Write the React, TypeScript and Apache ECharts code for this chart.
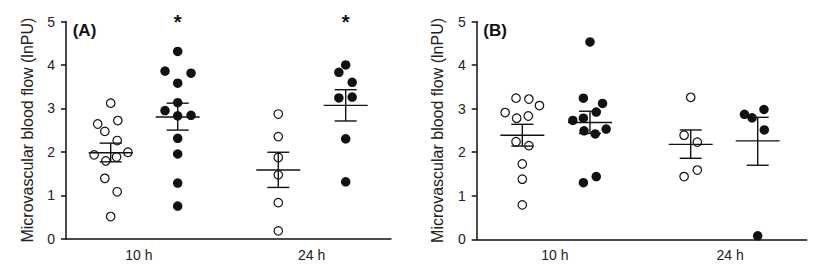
import React, { useEffect, useRef } from "react";
import * as echarts from "echarts";

// ---- data ----
const categories = ["10 h", "24 h"];
const panelTitles = ["(A)", "(B)"];
const yAxisName = "Microvascular blood flow (lnPU)";
// group centres on the 0..100 x scale: open 10 h, filled 10 h, open 24 h, filled 24 h
const groupCentersA = [13.75, 34.37, 65.32, 86.06];
const groupCentersB = [13.82, 34.33, 64.85, 85.15];
const labelPosA = [22.4, 75.6];
const labelPosB = [23.7, 76.8];

// panel A
const aOpen10 = [3.12, 2.64, 2.72, 2.47, 2.26, 1.93, 1.88, 1.99, 1.79, 1.39, 1.08, 0.51];
const aOpen10Jit = [0, -4, 2.2, -1.8, 2, -5.1, 1.8, 5.3, -1.5, -1.8, 2, 0];
const aFill10 = [4.31, 3.86, 3.81, 3.58, 3.13, 2.95, 2.83, 2.84, 2.31, 1.95, 1.28, 0.75];
const aFill10Jit = [0, -3.9, 4.1, 0, 0, -3.9, 0, 4.1, 0, 0, 0, 0];
const aOpen24 = [2.87, 2.35, 1.87, 1.47, 0.83, 0.18];
const aOpen24Jit = [0, 0, 0, 0, 0, 0];
const aFill24 = [4.0, 3.83, 3.6, 3.24, 3.26, 2.3, 1.31];
const aFill24Jit = [0, -2.1, 2, -2.1, 2, 0, 0];
const aMean = [1.98, 2.8, 1.58, 3.07];
const aSemLo = [1.77, 2.5, 1.18, 2.71];
const aSemHi = [2.2, 3.12, 1.99, 3.43];
const aSignificant = [false, true, false, true];

// panel B
const bOpen10 = [3.24, 3.22, 3.07, 2.91, 2.78, 2.83, 2.24, 2.15, 1.73, 1.38, 0.79];
const bOpen10Jit = [-1.9, 2, 5.2, -5.2, -1.7, 1.8, -1.9, 2, 0, 0, 0];
const bFill10 = [4.53, 3.24, 3.12, 2.92, 2.73, 2.78, 2.49, 2.42, 2.53, 1.44, 1.3];
const bFill10Jit = [0, -2, 3.8, 1.9, -5.2, -2, -1.8, 1.6, 4.9, 1.9, -2];
const bOpen24 = [3.26, 2.39, 2.23, 1.59, 1.44];
const bOpen24Jit = [0, -2, 2, 2, -2];
const bFill24 = [2.98, 2.87, 2.79, 2.51, 0.08];
const bFill24Jit = [1.9, -4, -1.7, 2, 0];
const bMean = [2.39, 2.68, 2.18, 2.26];
const bSemLo = [2.14, 2.43, 1.86, 1.7];
const bSemHi = [2.64, 2.94, 2.51, 2.8];

const FONT = "'Liberation Sans', Arial, Helvetica, sans-serif";
const INK = "#111";

export default function App() {
  const ref = useRef<HTMLDivElement>(null);

  useEffect(() => {
    if (!ref.current) return;
    const chart = echarts.init(ref.current, null, { renderer: "svg" });

    const panels = [
      {
        centers: groupCentersA,
        labelPos: labelPosA,
        groups: [
          [aOpen10, aOpen10Jit],
          [aFill10, aFill10Jit],
          [aOpen24, aOpen24Jit],
          [aFill24, aFill24Jit],
        ],
        mean: aMean,
        lo: aSemLo,
        hi: aSemHi,
        sig: aSignificant,
      },
      {
        centers: groupCentersB,
        labelPos: labelPosB,
        groups: [
          [bOpen10, bOpen10Jit],
          [bFill10, bFill10Jit],
          [bOpen24, bOpen24Jit],
          [bFill24, bFill24Jit],
        ],
        mean: bMean,
        lo: bSemLo,
        hi: bSemHi,
        sig: [false, false, false, false],
      },
    ];

    const series: any[] = [];
    panels.forEach((p, pi) => {
      p.groups.forEach(([ys, jit], gi) => {
        const filled = gi % 2 === 1;
        series.push({
          type: "scatter",
          xAxisIndex: pi,
          yAxisIndex: pi,
          symbol: "circle",
          symbolSize: filled ? 9.5 : 8.5,
          z: 2,
          itemStyle: filled
            ? { color: INK, borderWidth: 0, opacity: 1 }
            : { color: "#fff", borderColor: INK, borderWidth: 1.2, opacity: 1 },
          data: ys.map((y: number, i: number) => [p.centers[gi] + jit[i], y]),
        });
      });
      series.push({
        type: "custom",
        xAxisIndex: pi,
        yAxisIndex: pi,
        z: 5,
        encode: { x: 0, y: [1, 2, 3] },
        data: p.mean.map((m, i) => [p.centers[i], m, p.lo[i], p.hi[i]]),
        renderItem: (params: any, api: any) => {
          const c = api.value(0);
          const pm = api.coord([c, api.value(1)]);
          const pl = api.coord([c, api.value(2)]);
          const ph = api.coord([c, api.value(3)]);
          const st = { stroke: INK, lineWidth: 1.4 };
          return {
            type: "group",
            children: [
              { type: "line", shape: { x1: pm[0] - 22, y1: pm[1], x2: pm[0] + 22, y2: pm[1] }, style: st },
              { type: "line", shape: { x1: pl[0], y1: pl[1], x2: ph[0], y2: ph[1] }, style: st },
              { type: "line", shape: { x1: pl[0] - 11, y1: pl[1], x2: pl[0] + 11, y2: pl[1] }, style: st },
              { type: "line", shape: { x1: ph[0] - 11, y1: ph[1], x2: ph[0] + 11, y2: ph[1] }, style: st },
            ],
          };
        },
      });
      const sigData = p.centers.filter((_, i) => p.sig[i]).map((c) => [c, 5]);
      if (sigData.length) {
        series.push({
          type: "custom",
          xAxisIndex: pi,
          yAxisIndex: pi,
          z: 5,
          clip: false,
          data: sigData,
          renderItem: (params: any, api: any) => {
            const pt = api.coord([api.value(0), api.value(1)]);
            return {
              type: "text",
              x: pt[0],
              y: pt[1],
              style: {
                text: "*",
                fill: INK,
                font: `bold 20px ${FONT}`,
                align: "center",
                verticalAlign: "middle",
              },
            };
          },
        });
      }
    });

    const grids = [
      { left: 66, top: 21.5, width: 325, height: 217.2 },
      { left: 476.7, top: 21.5, width: 330, height: 217.8 },
    ];

    chart.setOption({
      animation: false,
      backgroundColor: "#fff",
      grid: grids.map((g) => ({ ...g, containLabel: false })),
      xAxis: panels.map((p, pi) => ({
        type: "value",
        gridIndex: pi,
        min: 0,
        max: 100,
        axisLine: { show: true, onZero: false, lineStyle: { color: INK, width: 1.5 } },
        axisTick: { show: false },
        splitLine: { show: false },
        axisLabel: {
          show: true,
          customValues: p.labelPos,
          margin: 9,
          fontSize: 14,
          fontFamily: FONT,
          color: "#222",
          formatter: (v: number) => {
            let best = 0;
            p.labelPos.forEach((lp, i) => {
              if (Math.abs(lp - v) < Math.abs(p.labelPos[best] - v)) best = i;
            });
            return categories[best];
          },
        },
      })),
      yAxis: panels.map((p, pi) => ({
        type: "value",
        gridIndex: pi,
        min: 0,
        max: 5,
        interval: 1,
        name: yAxisName,
        nameLocation: "middle",
        nameGap: 31,
        nameTextStyle: { fontSize: 16, fontFamily: FONT, color: "#222" },
        axisLine: { show: true, lineStyle: { color: INK, width: 1.5 } },
        axisTick: { show: true, length: 5, lineStyle: { color: INK, width: 1.5 } },
        splitLine: { show: false },
        axisLabel: { fontSize: 14, fontFamily: FONT, color: "#222", margin: 11 },
      })),
      graphic: [
        {
          type: "text",
          left: 72.7,
          top: 22,
          style: { text: panelTitles[0], font: `bold 17px ${FONT}`, fill: INK },
        },
        {
          type: "text",
          left: 483.3,
          top: 22,
          style: { text: panelTitles[1], font: `bold 17px ${FONT}`, fill: INK },
        },
      ],
      series,
    });

    return () => chart.dispose();
  }, []);

  return (
    <div
      ref={ref}
      style={{ width: 840, height: 271, position: "absolute", left: 0, top: 0 }}
    />
  );
}
